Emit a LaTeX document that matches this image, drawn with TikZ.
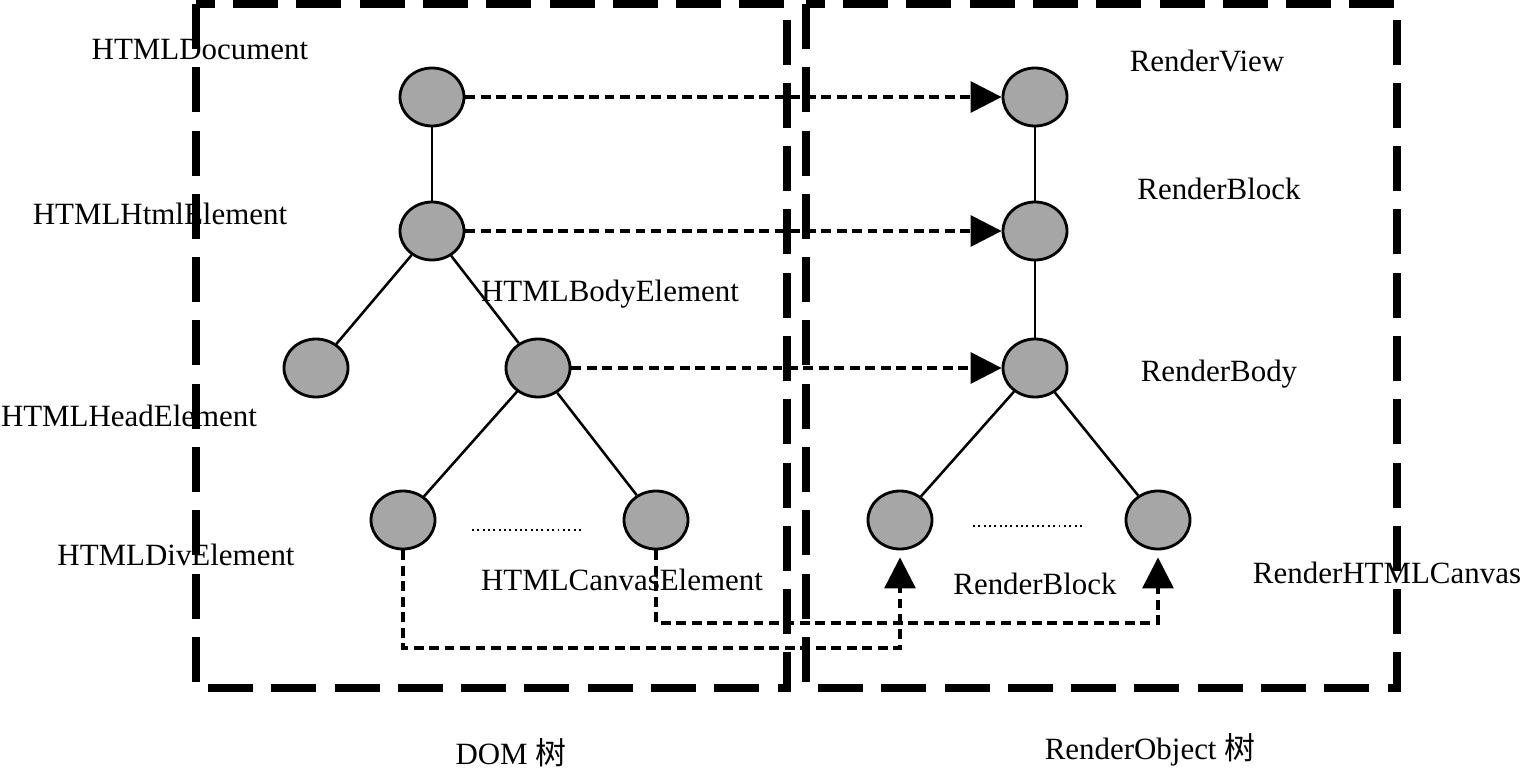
\documentclass[tikz,border=0pt]{standalone}
\usepackage{fontspec}
\setmainfont{Liberation Serif}
\newfontfamily\cjkfont{Noto Sans CJK SC}
\usepackage{xcolor}
\usetikzlibrary{arrows.meta,shapes.geometric}
\definecolor{nodegray}{RGB}{166,166,166}

\begin{document}
\begin{tikzpicture}[
        x=0.025cm, y=-0.025cm,
        treenode/.style={ellipse, draw, line width=2pt, fill=nodegray, minimum width=1.6cm, minimum height=1.45cm, inner sep=0pt},
        nametext/.style={font=\fontsize{22}{26}\selectfont, inner sep=0pt},
        treeedge/.style={line width=1.8pt},
        maplink/.style={line width=2.4pt, dash pattern=on 7pt off 4pt, -{Triangle[length=22pt, width=22pt]}},
        treebox/.style={line width=5pt, dash pattern=on 32pt off 13pt},
        dotline/.style={line width=1.5pt, dash pattern=on 1.4pt off 2.4pt}
    ]
    \useasboundingbox (0,0) rectangle (1522,769);
    % DOM tree
    \node[treenode] (document) at (432,97) {};
    \node[treenode] (htmlelem) at (432,231) {};
    \node[treenode] (headelem) at (316,368) {};
    \node[treenode] (bodyelem) at (538,368) {};
    \node[treenode] (divelem) at (403,520) {};
    \node[treenode] (canvaselem) at (656,520) {};
    % render tree
    \node[treenode] (renderview) at (1035,97) {};
    \node[treenode] (renderblock) at (1035,231) {};
    \node[treenode] (renderbody) at (1035,368) {};
    \node[treenode] (renderblockb) at (900,520) {};
    \node[treenode] (rendercanvas) at (1158,520) {};

    \draw[treeedge] (document) -- (htmlelem);
    \draw[treeedge] (htmlelem) -- (headelem);
    \draw[treeedge] (htmlelem) -- (bodyelem);
    \draw[treeedge] (bodyelem) -- (divelem);
    \draw[treeedge] (bodyelem) -- (canvaselem);
    \draw[treeedge] (renderview) -- (renderblock);
    \draw[treeedge] (renderblock) -- (renderbody);
    \draw[treeedge] (renderbody) -- (renderblockb);
    \draw[treeedge] (renderbody) -- (rendercanvas);

    \draw[dotline] (472,530) -- (582,530);
    \draw[dotline] (973,526) -- (1083,526);

    % mapping links
    \draw[maplink] (document) -- (renderview);
    \draw[maplink] (htmlelem) -- (renderblock);
    \draw[maplink] (bodyelem) -- (renderbody);
    \coordinate (divturn) at (403,648);
    \coordinate (canvasturn) at (656,623);
    \draw[maplink, shorten >=5pt] (divelem.south) -- (divturn) -| (renderblockb.south);
    \draw[maplink, shorten >=5pt] (canvaselem.south) -- (canvasturn) -| (rendercanvas.south);

    % labels
    \node[nametext] (doclabel) at (200,50) {HTMLDocument};
    \node[nametext] (htmllabel) at (160,214) {HTMLHtmlElement};
    \node[nametext] (bodylabel) at (610,294) {HTMLBodyElement};
    \node[nametext] (headlabel) at (129,416) {HTMLHeadElement};
    \node[nametext] (divlabel) at (176,555) {HTMLDivElement};
    \node[nametext] (canvaslabel) at (622,580) {HTMLCanvasElement};
    \node[nametext] (viewlabel) at (1207,61) {RenderView};
    \node[nametext] (blocklabel) at (1219,189) {RenderBlock};
    \node[nametext] (rbodylabel) at (1219,374) {RenderBody};
    \node[nametext] (blockblabel) at (1035,584) {RenderBlock};
    \node[nametext] (rcanvaslabel) at (1387,573) {RenderHTMLCanvas};
    \node[nametext] (domtitle) at (511,753) {DOM {\cjkfont 树}};
    \node[nametext] (rendertitle) at (1150,750) {RenderObject {\cjkfont 树}};

    % tree boxes
    \draw[treebox] (196,4) rectangle (787,688);
    \draw[treebox] (806,4) rectangle (1397,688);
\end{tikzpicture}
\end{document}
